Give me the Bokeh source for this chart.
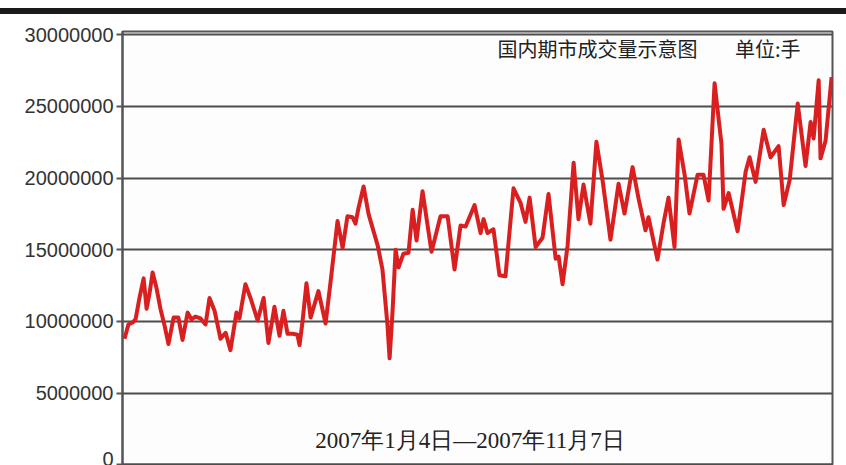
from bokeh.plotting import figure
from bokeh.models import Range1d, Label, Div, FixedTicker, NumeralTickFormatter
from bokeh.layouts import column
from bokeh.embed import file_html
from bokeh.resources import INLINE

# Days since 2007-01-04
day_offsets = [0, 1.7, 3.5, 4.8, 6.5, 8.3, 9.6, 10.9, 12.2, 13.9, 15.6, 17.4, 19.1, 21.3, 23.4,
               25.2, 27.4, 29.1, 30.8, 33.0, 35.2, 36.9, 39.1, 41.7, 43.9, 46.0, 48.6, 49.9,
               52.5, 54.7, 57.8, 60.4, 62.5, 65.1, 67.3, 69.0, 70.8, 73.0, 75.1, 76.0, 77.3,
               79.0, 80.8, 84.2, 87.3, 89.4, 92.5, 94.7, 96.8, 99.0, 100.3, 101.6, 103.8,
               106.0, 109.9, 112.0, 114.2, 115.1, 116.4, 117.7, 119.0, 121.1, 123.3, 125.1,
               126.8, 129.4, 133.3, 137.2, 140.3, 143.3, 145.9, 148.1, 152.0, 154.6, 155.9,
               157.6, 160.2, 162.8, 165.4, 168.9, 172.0, 174.1, 175.9, 178.5, 181.5, 184.1,
               187.2, 188.5, 190.2, 192.4, 195.0, 197.1, 199.3, 202.3, 204.9, 207.6, 211.0,
               214.5, 217.1, 220.6, 223.2, 226.2, 227.5, 231.4, 234.0, 236.2, 238.8, 240.6,
               243.2, 245.3, 248.8, 251.4, 253.6, 256.2, 259.2, 260.1, 262.3, 266.2, 269.7,
               271.4, 274.0, 277.5, 280.5, 284.0, 286.2, 288.8, 292.3, 295.7, 297.9, 299.2,
               301.4, 302.2, 304.4, 307.0]

# Trading volume (lots)
volumes = [8790000, 9790000, 9930000, 10140000, 11640000, 13010000, 10890000, 11990000,
           13420000, 12330000, 10890000, 9710000, 8430000, 10270000, 10270000, 8710000,
           10620000, 10140000, 10340000, 10210000, 9790000, 11640000, 10750000, 8790000,
           9210000, 8000000, 10620000, 10210000, 12600000, 11640000, 10070000, 11640000,
           8500000, 11030000, 9000000, 10750000, 9140000, 9140000, 9070000, 8360000,
           10000000, 12670000, 10270000, 12120000, 9860000, 12670000, 17010000, 15130000,
           17340000, 17270000, 16820000, 17920000, 19420000, 17470000, 15320000, 13630000,
           9710000, 7430000, 10750000, 15000000, 13770000, 14730000, 14790000, 17790000,
           15650000, 19090000, 14860000, 17340000, 17340000, 13630000, 16690000, 16620000,
           18120000, 16170000, 17140000, 16170000, 16430000, 13220000, 13150000, 19290000,
           18250000, 16950000, 18640000, 15190000, 15840000, 18900000, 14380000, 14520000,
           12600000, 15320000, 21080000, 17140000, 19550000, 16820000, 22540000, 19810000,
           15710000, 19610000, 17530000, 20770000, 18570000, 16360000, 17270000, 14320000,
           16820000, 18640000, 15190000, 22690000, 20230000, 17530000, 20230000, 20230000,
           18440000, 26620000, 22380000, 17860000, 18960000, 16300000, 20460000, 21460000,
           19740000, 23380000, 21460000, 22230000, 18120000, 19870000, 25210000, 20850000,
           23920000, 22770000, 26830000, 21380000, 22620000, 27040000]

y_ticks = [0, 5000000, 10000000, 15000000, 20000000, 25000000, 30000000]

title_main = "国内期市成交量示意图"
title_unit = "单位:手"
period_text = "2007年1月4日—2007年11月7日"

n = min(len(day_offsets), len(volumes))

p = figure(width=846, height=451, output_backend="svg", toolbar_location=None,
           x_range=Range1d(-0.87, 307.4), y_range=Range1d(-47000, 30230000),
           min_border_left=122, min_border_right=14, min_border_top=17, min_border_bottom=0)
p.xaxis.visible = False
p.background_fill_color = "#fdfdfd"
p.border_fill_color = "white"
p.outline_line_color = "#555555"
p.outline_line_width = 2

p.yaxis.ticker = FixedTicker(ticks=y_ticks)
p.yaxis.formatter = NumeralTickFormatter(format="0")
p.yaxis.major_label_text_font = "Liberation Sans"
p.yaxis.major_label_text_font_size = "20px"
p.yaxis.major_label_text_color = "#333333"
p.yaxis.axis_line_color = "#555555"
p.yaxis.axis_line_width = 2
p.yaxis.major_tick_line_color = "#555555"
p.yaxis.major_tick_line_width = 2
p.yaxis.major_tick_out = 6
p.yaxis.major_tick_in = 0
p.yaxis.minor_tick_line_color = None
p.yaxis.major_label_standoff = 3

p.xgrid.visible = False
p.ygrid.ticker = FixedTicker(ticks=y_ticks)
p.ygrid.grid_line_color = "#4d4d4d"
p.ygrid.grid_line_width = 2

p.line(day_offsets[:n], volumes[:n], line_color="#d91f1f", line_width=4, line_join="round")

p.add_layout(Label(x=162.0, y=29050000, text=title_main, text_align="left",
                   text_baseline="middle", text_font="Noto Sans CJK SC",
                   text_font_size="20px", text_color="#222222"))
p.add_layout(Label(x=293.5, y=29050000, text=title_unit, text_align="right",
                   text_baseline="middle", text_font="Noto Sans CJK SC",
                   text_font_size="20px", text_color="#222222"))
p.add_layout(Label(x=150, y=1700000, text=period_text, text_align="center",
                   text_baseline="middle", text_font="Liberation Sans Narrow",
                   text_font_size="23px", text_color="#222222"))

bar = Div(text="", width=846, height=6, margin=(8, 0, 0, 0),
          styles={"background-color": "#1a1a1a"})

layout = column(bar, p, spacing=0)
open("out.html", "w").write(file_html(layout, INLINE))
